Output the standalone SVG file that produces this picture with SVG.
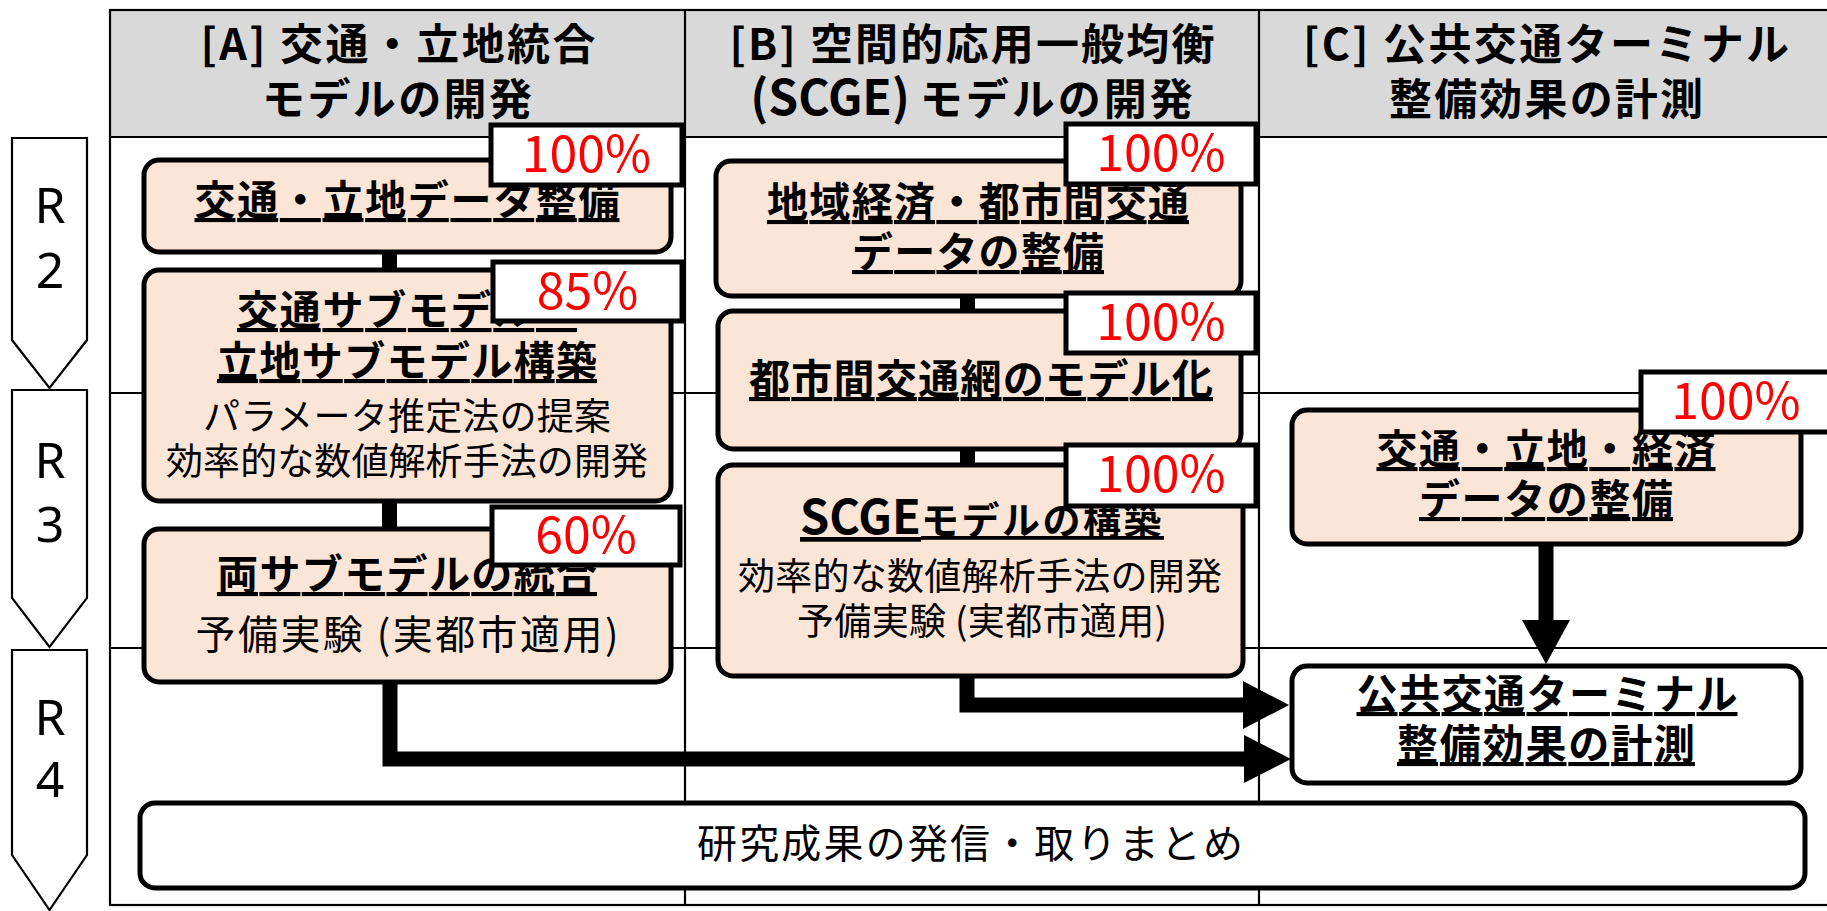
<svg xmlns="http://www.w3.org/2000/svg" width="1827" height="911" viewBox="0 0 1827 911">
<defs>
<style>
text{font-family:"Noto Sans CJK JP","Noto Sans",sans-serif;fill:#000;}
.grid{stroke:#000;stroke-width:2.2;fill:none;}
.hdr{fill:#d9d9d9;}
.rarr{fill:#fff;stroke:#000;stroke-width:2.2;}
.rl{font-family:"Noto Sans","Noto Sans CJK JP",sans-serif;font-size:50px;text-anchor:middle;}
.box{fill:#fbe5d6;stroke:#000;stroke-width:5;}
.wbox{fill:#fff;stroke:#000;stroke-width:5;}
.badge{fill:#fff;stroke:#000;stroke-width:5;}
.pct{font-size:50px;fill:#ff0000;text-anchor:middle;}
.h{font-size:43px;font-weight:700;text-anchor:middle;}
.t{font-size:41px;font-weight:700;text-anchor:middle;text-decoration:underline;}
.r{font-size:37px;text-anchor:middle;}
.conn{stroke:#000;stroke-width:15;fill:none;stroke-linejoin:miter;}
.head{fill:#000;}
</style>
</defs>

<g id="table">
<rect class="hdr" x="110" y="10" width="1720" height="127"/>
<rect class="grid" x="110" y="10" width="1720" height="895"/>
<line class="grid" x1="110" y1="137" x2="1827" y2="137"/>
<line class="grid" x1="110" y1="393" x2="1827" y2="393"/>
<line class="grid" x1="110" y1="648" x2="1827" y2="648"/>
<line class="grid" x1="685" y1="10" x2="685" y2="905"/>
<line class="grid" x1="1259" y1="10" x2="1259" y2="905"/>
</g>

<g id="headers">
<text class="h" x="398" y="60" textLength="395" lengthAdjust="spacing">[A] 交通・立地統合</text>
<text class="h" x="397" y="115" textLength="270" lengthAdjust="spacing">モデルの開発</text>
<text class="h" x="972" y="60" textLength="485" lengthAdjust="spacing">[B] 空間的応用一般均衡</text>
<text class="h" x="973" y="115"><tspan style="font-size:48px">(SCGE)</tspan> <tspan style="letter-spacing:3px">モデルの開発</tspan></text>
<text class="h" x="1546" y="60" textLength="486" lengthAdjust="spacing">[C] 公共交通ターミナル</text>
<text class="h" x="1546" y="115" textLength="314" lengthAdjust="spacing">整備効果の計測</text>
</g>

<g id="years">
<g id="R2">
<polygon class="rarr" points="12,138 87,138 87,340 49.5,388 12,340"/>
<text class="rl" x="50" y="223">R</text>
<text class="rl" x="50" y="288">2</text>
</g>
<g id="R3">
<polygon class="rarr" points="12,390 87,390 87,598 49.5,647 12,598"/>
<text class="rl" x="50" y="478">R</text>
<text class="rl" x="50" y="542">3</text>
</g>
<g id="R4">
<polygon class="rarr" points="12,650 87,650 87,855 49.5,910 12,855"/>
<text class="rl" x="50" y="735">R</text>
<text class="rl" x="50" y="797">4</text>
</g>
</g>

<g id="connectors">
<rect x="382" y="250" width="15" height="22" fill="#000"/>
<rect x="382" y="499" width="15" height="32" fill="#000"/>
<rect x="960" y="294" width="15" height="19" fill="#000"/>
<rect x="960" y="447" width="15" height="20" fill="#000"/>
<path class="conn" d="M390,680 V759 H1246"/>
<polygon class="head" points="1244,735 1291,759 1244,783"/>
<path class="conn" d="M967,674 V705 H1245"/>
<polygon class="head" points="1243,681 1289,705 1243,729"/>
<path class="conn" d="M1546,542 V622"/>
<polygon class="head" points="1522,620 1546,664 1570,620"/>
</g>

<g id="A1">
<rect class="box" x="144" y="160" width="527" height="92" rx="15"/>
<text class="t" x="407" y="215" textLength="425" lengthAdjust="spacing">交通・立地データ整備</text>
<rect class="badge" x="491" y="125" width="191" height="60"/>
<text class="pct" x="586.5" y="172">100%</text>
</g>

<g id="A2">
<rect class="box" x="144" y="270" width="527" height="231" rx="15"/>
<text class="t" x="407" y="325" textLength="340" lengthAdjust="spacing">交通サブモデル・</text>
<text class="t" x="407" y="376" textLength="380" lengthAdjust="spacing">立地サブモデル構築</text>
<text class="r" x="407" y="430" textLength="408" lengthAdjust="spacing">パラメータ推定法の提案</text>
<text class="r" x="407" y="475" textLength="482" lengthAdjust="spacing">効率的な数値解析手法の開発</text>
<rect class="badge" x="493" y="262" width="189" height="59"/>
<text class="pct" x="587.5" y="309">85%</text>
</g>

<g id="A3">
<rect class="box" x="144" y="529" width="527" height="153" rx="15"/>
<text class="t" x="407" y="589" textLength="380" lengthAdjust="spacing">両サブモデルの統合</text>
<text class="r" x="407" y="649" style="font-size:40px" textLength="423" lengthAdjust="spacing">予備実験 (実都市適用)</text>
<rect class="badge" x="492" y="507" width="188" height="58"/>
<text class="pct" x="586" y="553">60%</text>
</g>

<g id="B1">
<rect class="box" x="716" y="161" width="525" height="135" rx="15"/>
<text class="t" x="978" y="217" textLength="422" lengthAdjust="spacing">地域経済・都市間交通</text>
<text class="t" x="978" y="267" textLength="252" lengthAdjust="spacing">データの整備</text>
<rect class="badge" x="1066" y="124" width="190" height="60"/>
<text class="pct" x="1161" y="171">100%</text>
</g>

<g id="B2">
<rect class="box" x="718" y="311" width="523" height="138" rx="15"/>
<text class="t" x="981" y="394" textLength="464" lengthAdjust="spacing">都市間交通網のモデル化</text>
<rect class="badge" x="1066" y="293" width="190" height="60"/>
<text class="pct" x="1161" y="340">100%</text>
</g>

<g id="B3">
<rect class="box" x="718" y="465" width="525" height="211" rx="15"/>
<text class="t" x="982" y="534" style="font-size:38px"><tspan style="font-size:47px">SCGE</tspan><tspan style="letter-spacing:2.5px">モデルの構築</tspan></text>
<text class="r" x="980" y="590" textLength="484" lengthAdjust="spacing">効率的な数値解析手法の開発</text>
<text class="r" x="982" y="635" textLength="370" lengthAdjust="spacing">予備実験 (実都市適用)</text>
<rect class="badge" x="1066" y="445" width="190" height="61"/>
<text class="pct" x="1161" y="492">100%</text>
</g>

<g id="C1">
<rect class="box" x="1292" y="410" width="509" height="134" rx="15"/>
<text class="t" x="1546" y="464" textLength="339" lengthAdjust="spacing">交通・立地・経済</text>
<text class="t" x="1546" y="514" textLength="254" lengthAdjust="spacing">データの整備</text>
<rect class="badge" x="1641" y="372" width="190" height="60"/>
<text class="pct" x="1736" y="419">100%</text>
</g>

<g id="C2">
<rect class="wbox" x="1292" y="666" width="509" height="117" rx="15"/>
<text class="t" x="1547" y="709" textLength="381" lengthAdjust="spacing">公共交通ターミナル</text>
<text class="t" x="1546" y="759" textLength="298" lengthAdjust="spacing">整備効果の計測</text>
</g>

<g id="D">
<rect class="wbox" x="140" y="803" width="1665" height="85" rx="15"/>
<text class="r" x="970" y="858" style="font-size:40px" textLength="546" lengthAdjust="spacing">研究成果の発信・取りまとめ</text>
</g>
</svg>
